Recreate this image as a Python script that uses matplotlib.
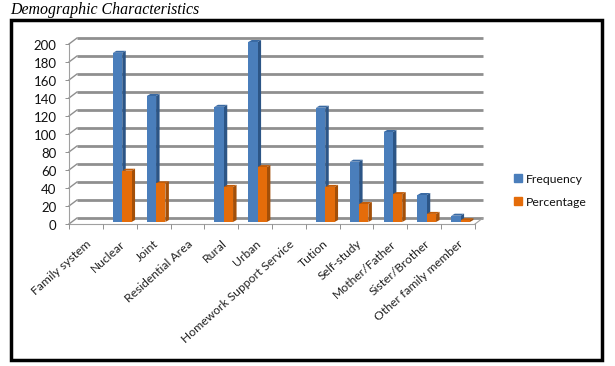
import matplotlib
matplotlib.use("Agg")
import matplotlib.pyplot as plt
from matplotlib.patches import Patch, Rectangle
from matplotlib.transforms import Affine2D

categories = ["Family system", "Nuclear", "Joint", "Residential Area", "Rural", "Urban",
              "Homework Support Service", "Tution", "Self-study", "Mother/Father",
              "Sister/Brother", "Other family member"]
frequency = [0, 188, 140, 0, 128, 200, 0, 127, 67, 100, 30, 7]
percentage = [0, 57, 43, 0, 39, 61, 0, 39, 20, 31, 9, 2]
y_ticks = list(range(0, 201, 20))

W, H = 615, 366
fig = plt.figure(figsize=(W / 100, H / 100), dpi=100, facecolor="white")
ax = fig.add_axes([69 / W, (H - 224) / H, 406 / W, 180 / H])
ax.set_xlim(0, len(categories))
ax.set_ylim(0, 200)
ax.patch.set_alpha(0)
for s in ax.spines.values():
    s.set_visible(False)

GRID = "#8f8f8f"
FONT = "Lato"
back = Affine2D().translate(8, 6)
T = ax.transData

# back-wall gridlines and left wall diagonals
n = len(categories)
for v in y_ticks:
    ax.plot([0, n], [v, v], transform=T + back, color=GRID, lw=2.0, solid_capstyle="butt",
            clip_on=False, zorder=1)
    x0, y0 = T.transform((0, v))
    ax.plot([x0, x0 + 8], [y0, y0 + 6], transform=None, color=GRID, lw=1.0, clip_on=False, zorder=1)
# axis lines
ax.plot([0, 0], [0, 200], color="#a0a0a0", lw=0.8, clip_on=False, zorder=1)
ax.plot([0, n], [0, 0], color="#a0a0a0", lw=0.8, clip_on=False, zorder=1)
x0, y0 = T.transform((n, 0))
ax.plot([x0, x0 + 8], [y0, y0 + 6], transform=None, color="#a0a0a0", lw=0.8, clip_on=False, zorder=1)

# 3D-look bars
bar_w = 0.275
shift = Affine2D().translate(2.5, 2)
depth_x, depth_y = 3.5, 2


def bars(values, offset, face, side, top, z):
    for i, v in enumerate(values):
        if v <= 0:
            continue
        xl = i + 0.5 + offset
        xr = xl + bar_w
        (pxl, py0), (pxr, py1) = (T + shift).transform([(xl, 0), (xr, v)])
        ax.fill([pxr, pxr + depth_x, pxr + depth_x, pxr],
                [py0, py0 + depth_y, py1 + depth_y, py1],
                transform=None, color=side, lw=0, clip_on=False, zorder=z)
        ax.fill([pxl, pxl + depth_x, pxr + depth_x, pxr],
                [py1, py1 + depth_y, py1 + depth_y, py1],
                transform=None, color=top, lw=0, clip_on=False, zorder=z)
    ax.bar([i + 0.5 + offset for i in range(n)], values, width=bar_w, align="edge",
           color=face, transform=T + shift, clip_on=False, zorder=z + 0.5, lw=0)


bars(frequency, -bar_w, "#4a7ebb", "#2c5586", "#3a6aa3", 3)
bars(percentage, 0, "#e46c0a", "#a34f08", "#c25c08", 4)

# ticks
ax.set_xticks(range(n + 1))
ax.set_xticklabels([])
ax.set_yticks(y_ticks)
ax.tick_params(axis="x", length=3.5, width=0.7, color="#909090")
ax.tick_params(axis="y", length=3, width=0.7, color="#909090", labelsize=9.5, labelcolor="#111111", pad=6)
for lab in ax.get_yticklabels():
    lab.set_fontfamily(FONT)
    lab.set_transform(lab.get_transform() + Affine2D().translate(0, -1.5))

# rotated category labels
lab_off = Affine2D().translate(0, -14)
for i, c in enumerate(categories):
    ax.text(i + 0.5, 0, c, transform=T + lab_off, rotation=42, ha="right", va="top",
            rotation_mode="anchor", fontsize=8.7, family=FONT, color="#222222", clip_on=False)

# legend
leg = fig.legend(handles=[Patch(color="#4a7ebb", label="Frequency"), Patch(color="#e46c0a", label="Percentage")],
                 loc="upper left", bbox_to_anchor=(505 / W, 1 - 165 / H), frameon=False,
                 prop={"family": FONT, "size": 8.8}, handlelength=0.68, handleheight=0.6,
                 handletextpad=0.3, labelspacing=0.98, borderpad=0.2, labelcolor="#111111")

# title and outer frame
fig.text(10 / W, 1 - 14 / H, "Demographic Characteristics", family="Liberation Serif", style="italic",
         fontsize=11.4, color="black", va="baseline")
fig.add_artist(Rectangle((10.5 / W, 1 - 360 / H), 591.5 / W, 340.5 / H, transform=fig.transFigure,
                         fill=False, edgecolor="black", lw=2.5))

fig.savefig("out.png", dpi=100, facecolor="white")
